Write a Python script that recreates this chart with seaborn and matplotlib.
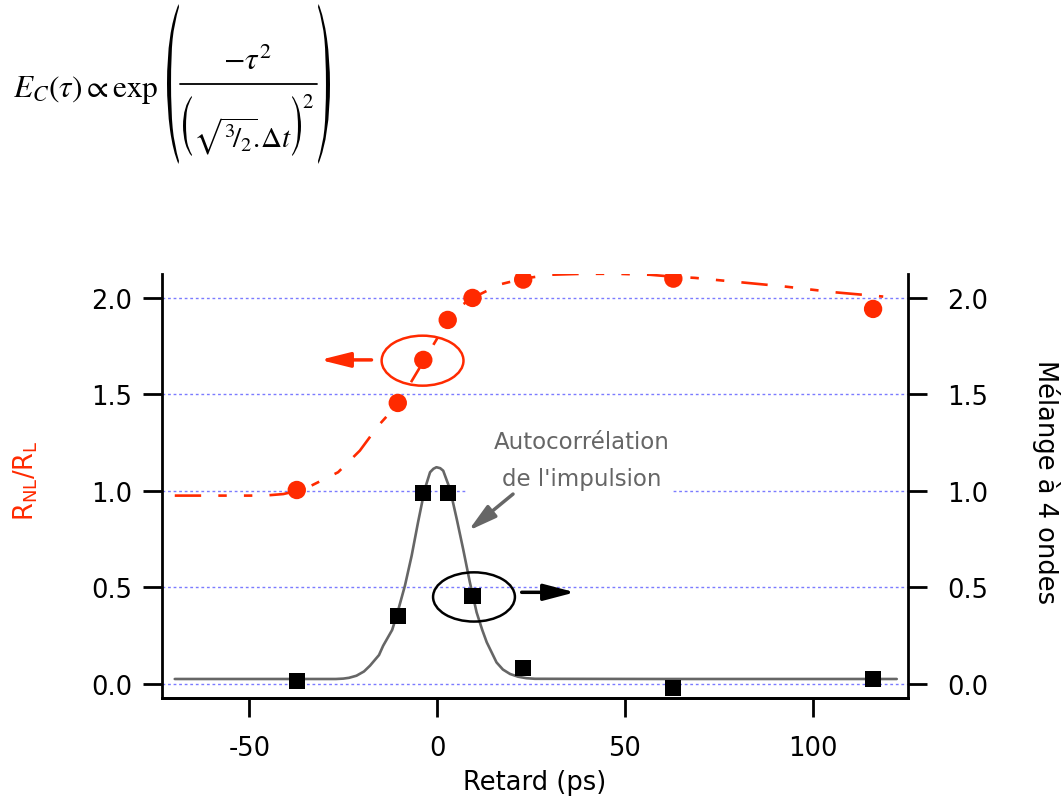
import matplotlib
matplotlib.use('Agg')
import matplotlib.pyplot as plt
import seaborn as sns
from matplotlib.patches import Ellipse, Rectangle, PathPatch
from matplotlib.textpath import TextPath
from matplotlib.font_manager import FontProperties
from matplotlib.transforms import Affine2D
from matplotlib.lines import Line2D

# valeurs
retard_pts = [-37.4, -10.5, -3.7, 2.8, 9.4, 22.9, 62.9, 116.1]
rnl_rl = [1.005, 1.456, 1.679, 1.886, 2.0, 2.095, 2.10, 1.943]
fwm = [0.014, 0.351, 0.988, 0.99, 0.454, 0.083, -0.019, 0.026]

fit_x = [-69.9, -60.0, -50.0, -45.4, -41.0, -37.4, -33.9, -26.4, -20.6, -15.7,
         -10.5, -7.7, -3.7, 0.3, 2.8, 5.6, 9.4, 16.7, 22.9, 30.0, 39.0, 47.8,
         56.7, 62.9, 68.6, 74.4, 92.2, 105.5, 118.8]
fit_y = [0.976, 0.976, 0.976, 0.977, 0.984, 1.00, 1.024, 1.097, 1.209, 1.338,
         1.45, 1.54, 1.67, 1.80, 1.87, 1.95, 2.00, 2.07, 2.10, 2.12, 2.125, 2.125,
         2.12, 2.11, 2.104, 2.093, 2.06, 2.03, 2.007]

auto_x = [-69.9, -40.0, -27.0, -25.0, -23.5, -21.5, -19.5, -17.9, -15.5, -14.4,
          -12.0, -10.8, -8.6, -6.8, -5.1, -3.3, -1.9, -1.0, -0.2, 0.8, 1.6, 3.4,
          5.2, 6.9, 8.7, 10.5, 12.0, 13.2, 15.8, 17.5, 19.4, 21.5, 23.8, 26.0,
          60.0, 122.4]
auto_y = [0.026, 0.026, 0.026, 0.028, 0.032, 0.043, 0.065, 0.095, 0.15, 0.198,
          0.28, 0.354, 0.509, 0.665, 0.838, 1.01, 1.097, 1.115, 1.123, 1.118,
          1.105, 1.01, 0.855, 0.70, 0.527, 0.371, 0.28, 0.216, 0.112, 0.075,
          0.052, 0.038, 0.03, 0.027, 0.026, 0.026]

yticks = [0.0, 0.5, 1.0, 1.5, 2.0]
xticks = [-50, 0, 50, 100]

rouge = '#FF2A00'
gris = '#666666'
bleu = '#7B7BFF'

sns.set_theme(style='white')
plt.rcParams['font.family'] = ['DejaVu Sans']
plt.rcParams['text.color'] = 'black'

W, H = 1064, 803
fig = plt.figure(figsize=(W / 100, H / 100), dpi=100)
ax = fig.add_axes([162 / W, 104 / H, 746 / W, 424 / H])
ax2 = ax.twinx()

xlim = (-73.3, 125.4)
ylim = (-0.0725, 2.124)

# grille pointillée bleue
for v in yticks:
    ax.axhline(v, color=bleu, lw=1.0, ls=(0, (2, 2)), zorder=0.5)

sns.lineplot(x=fit_x, y=fit_y, ax=ax, color=rouge, lw=1.9,
             linestyle=(0, (10, 6.5, 3.2, 6.5, 3.2, 6.5)), zorder=2)
sns.scatterplot(x=retard_pts, y=rnl_rl, ax=ax, color=rouge, marker='o', s=175,
                edgecolor='none', zorder=3)

sns.lineplot(x=auto_x, y=auto_y, ax=ax2, color=gris, lw=1.9, zorder=2)
sns.scatterplot(x=retard_pts, y=fwm, ax=ax2, color='black', marker='s', s=135,
                edgecolor='none', zorder=3)

for a in (ax, ax2):
    a.set_xlim(*xlim)
    a.set_ylim(*ylim)
    a.set_yticks(yticks)
    a.set_yticklabels([f'{v:.1f}' for v in yticks])
    a.spines['top'].set_visible(False)
    for s in a.spines.values():
        s.set_linewidth(2)
        s.set_color('black')
    a.tick_params(width=2, length=13.5, labelsize=18.5, colors='black')

ax.spines['right'].set_visible(False)
ax2.spines['left'].set_visible(False)
ax.set_xticks(xticks)
ax.set_xticklabels([str(v) for v in xticks])
ax.tick_params(axis='y', left=True, right=False, pad=8)
ax.tick_params(axis='x', bottom=True, pad=13)
ax2.tick_params(axis='y', right=True, left=False, pad=15)

ax.set_xlabel('Retard (ps)', fontsize=18.5, color='black', va='center')
ax.xaxis.set_label_coords(0.5, -0.198)
ax.set_ylabel(r'R$_\mathregular{NL}$/R$_\mathregular{L}$', fontsize=18.5,
              color=rouge, va='center')
ax.yaxis.set_label_coords(-0.183, 0.516)
ax2.set_ylabel('Mélange à 4 ondes', fontsize=18.5, rotation=270, va='center',
               color='black')
ax2.yaxis.set_label_coords(1.185, 0.512)

# cache de la grille sous le texte
ax2.add_patch(Rectangle((8.2, 0.96), 54.6, 0.07, facecolor='white',
                        edgecolor='none', zorder=1))
ax2.text(38.5, 1.16, 'Autocorrélation\nde l\'impulsion', color=gris, fontsize=16.5,
         ha='center', va='center', linespacing=1.75, zorder=4)
ax2.annotate('', xy=(8.3, 0.794), xytext=(20.2, 0.984),
             arrowprops=dict(arrowstyle='-|>,head_length=1.7,head_width=0.45',
                             mutation_scale=10, color=gris, lw=2.5,
                             shrinkA=0, shrinkB=0), zorder=4)

# repères des axes
ax2.add_patch(Ellipse((-3.9, 1.675), 21.8, 0.259, fill=False, edgecolor=rouge,
                      lw=1.8, zorder=4))
ax2.annotate('', xy=(-31.2, 1.679), xytext=(-17.5, 1.679),
             arrowprops=dict(arrowstyle='-|>,head_length=1.8,head_width=0.45',
                             mutation_scale=10, color=rouge, lw=2.5,
                             shrinkA=0, shrinkB=0), zorder=4)
ax2.add_patch(Ellipse((9.8, 0.451), 21.8, 0.255, fill=False, edgecolor='black',
                      lw=1.8, zorder=4))
ax2.annotate('', xy=(36.7, 0.475), xytext=(22.5, 0.475),
             arrowprops=dict(arrowstyle='-|>,head_length=1.9,head_width=0.5',
                             mutation_scale=10, color='black', lw=2.5,
                             shrinkA=0, shrinkB=0), zorder=4)


# formule en haut à gauche, montée morceau par morceau (pixels)
def ftext(x, y, s, size, **kw):
    fig.text(x / W, 1 - y / H, s, fontsize=size, math_fontfamily='stix',
             color='black', **kw)


def paren(ch, x0, x1, ytop, ybot):
    tp = TextPath((0, 0), ch, size=1, prop=FontProperties(family='STIXGeneral'))
    bb = tp.get_extents()
    tr = (Affine2D().translate(-bb.x0, -bb.y0)
          .scale((x1 - x0) / bb.width, (ybot - ytop) / bb.height)
          .translate(x0, H - ybot))
    fig.add_artist(PathPatch(tr.transform_path(tp), facecolor='black',
                             edgecolor='none', transform=None))


ftext(13, 97, r'$E_C(\tau)\propto\mathrm{exp}$', 22.5, ha='left', va='baseline')
paren('(', 167, 179, 5, 165)
paren(')', 318, 330, 5, 165)
ftext(247, 70, r'$-\tau^{2}$', 22.5, ha='center', va='baseline')
fig.add_artist(Line2D([180 / W, 317 / W], [1 - 85 / H, 1 - 85 / H], color='black',
                      lw=1.3, transform=fig.transFigure))
paren('(', 183, 192, 97, 157)
paren(')', 292, 301, 97, 157)
ftext(242, 147, r'$\sqrt{{}^{3}\!/_{2}}\!.\!\Delta t$', 21, ha='center',
      va='baseline')
ftext(308, 108, '2', 15, ha='center', va='baseline', family='STIXGeneral')

fig.savefig('out.png', dpi=100)
